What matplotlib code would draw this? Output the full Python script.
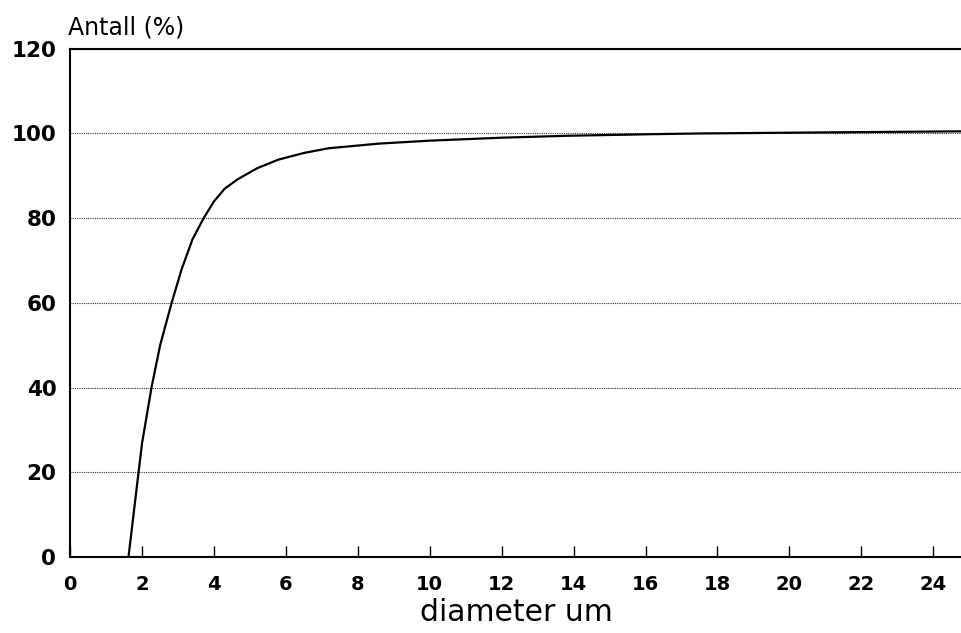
import matplotlib.pyplot as plt

# diameter (um) vs kumulativt antall (%)
diameter = [1.62, 1.90, 2.0, 2.26, 2.5, 2.82, 3.1, 3.4, 3.71, 4.0, 4.3, 4.66,
            5.2, 5.78, 6.5, 7.18, 8.58, 10.0, 12.0, 13.8, 16.0, 17.5, 21.7, 24.8]
antall = [0, 20, 27, 40, 50, 60, 68, 75, 80, 84, 87, 89.2,
          91.8, 93.8, 95.4, 96.5, 97.6, 98.3, 99.0, 99.45, 99.8, 100.0, 100.3, 100.5]
xticks = list(range(0, 25, 2))
yticks = [0, 20, 40, 60, 80, 100, 120]

plt.rcParams['font.family'] = ['DejaVu Sans']

fig = plt.figure(figsize=(9.62, 6.33), dpi=100)
ax = fig.add_axes([0.073, 0.12, 0.927, 0.803])

ax.plot(diameter, antall, color='black', linewidth=1.6)

ax.set_xlim(0, 24.8)
ax.set_ylim(0, 120)
ax.set_xticks(xticks)
ax.set_yticks(yticks)
for y in yticks[1:-1]:
    ax.axhline(y, color='#333333', linewidth=0.8, linestyle=(0, (1, 1)), zorder=0)

ax.spines['right'].set_visible(False)
for s in ['left', 'bottom', 'top']:
    ax.spines[s].set_linewidth(1.5)

ax.tick_params(axis='x', direction='in', length=8, width=1, pad=13, labelsize=14)
ax.tick_params(axis='y', length=0, pad=10, labelsize=15.5)
for lab in ax.get_xticklabels() + ax.get_yticklabels():
    lab.set_fontweight('bold')

fig.text(0.071, 0.957, 'Antall (%)', fontsize=17, ha='left', va='center')
fig.text(0.537, 0.032, 'diameter um', fontsize=21.5, ha='center', va='center')

fig.savefig('out.png', dpi=100)
